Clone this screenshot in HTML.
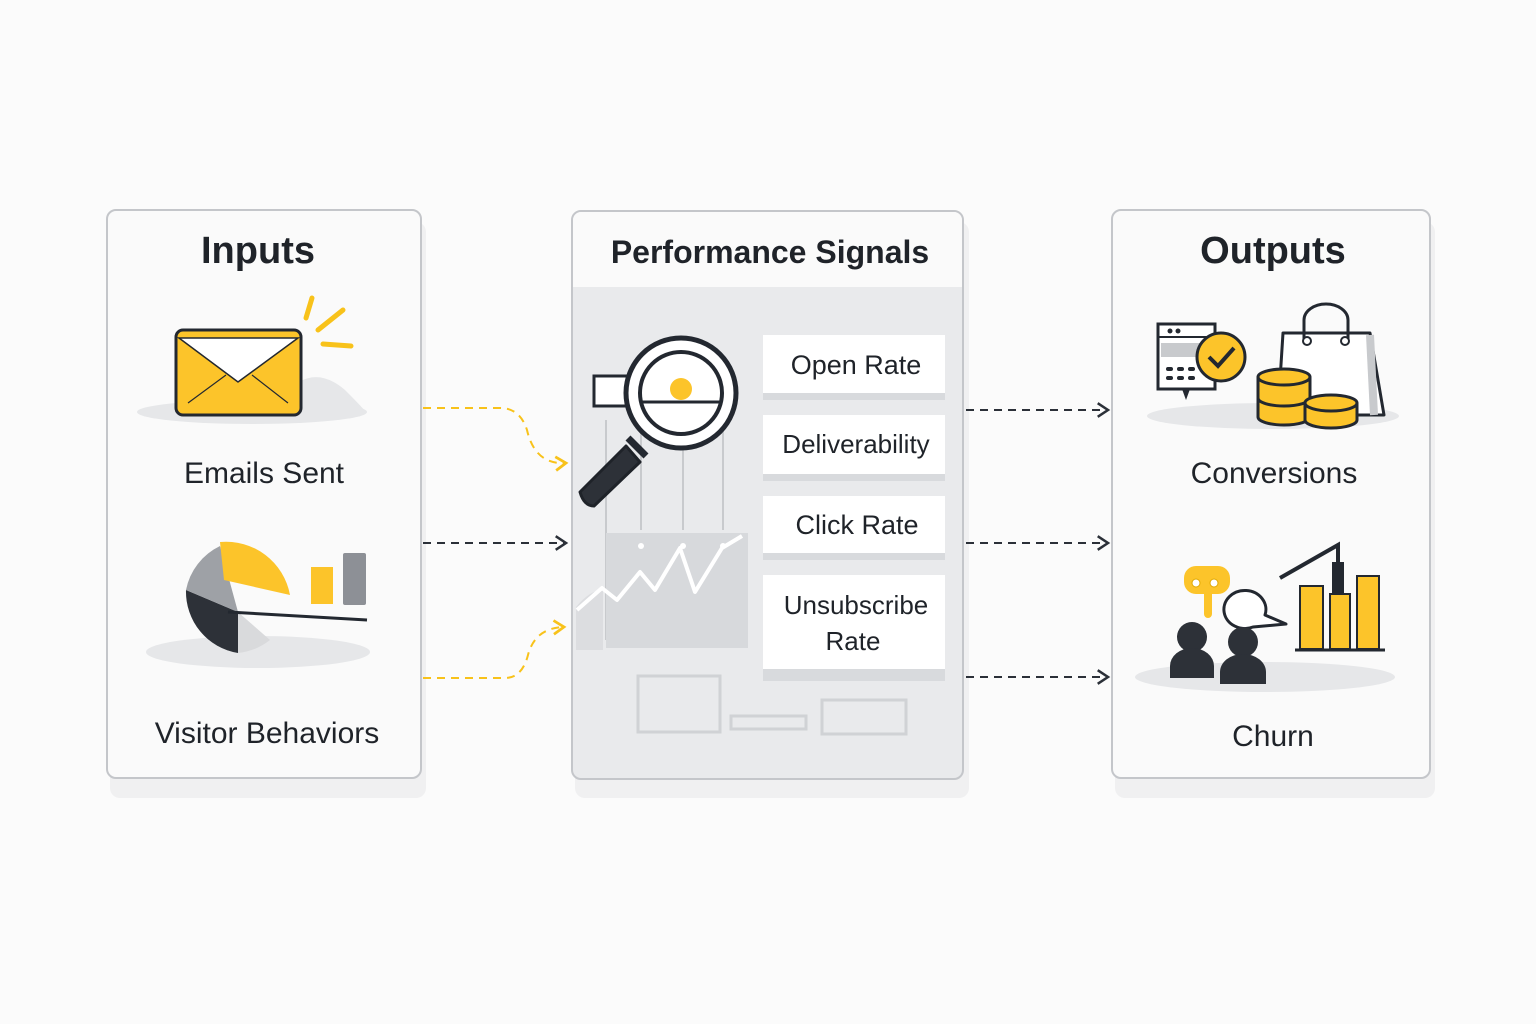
<!DOCTYPE html>
<html><head><meta charset="utf-8"><style>
html,body{margin:0;padding:0;background:#fbfbfb;}
svg{display:block}
text{font-family:"Liberation Sans",sans-serif;fill:#1f2329}
</style></head><body>
<svg width="1536" height="1024" viewBox="0 0 1536 1024" xmlns="http://www.w3.org/2000/svg">
<defs>
<marker id="ad" viewBox="0 0 14 14" refX="12" refY="7" markerWidth="16" markerHeight="16" markerUnits="userSpaceOnUse" orient="auto"><path d="M3 1 L12 7 L3 13" fill="none" stroke="#2b3038" stroke-width="2.2"/></marker>
<marker id="ay" viewBox="0 0 14 14" refX="12" refY="7" markerWidth="16" markerHeight="16" markerUnits="userSpaceOnUse" orient="auto"><path d="M3 1 L12 7 L3 13" fill="none" stroke="#f8c21a" stroke-width="2.4"/></marker>
</defs>
<rect width="1536" height="1024" fill="#fbfbfb"/>
<!-- shadows -->
<rect x="110" y="222" width="316" height="576" rx="10" fill="#f0f0f1"/>
<rect x="575" y="222" width="394" height="576" rx="10" fill="#f0f0f1"/>
<rect x="1115" y="222" width="320" height="576" rx="10" fill="#f0f0f1"/>
<!-- panels -->
<rect x="107" y="210" width="314" height="568" rx="9" fill="#fafafa" stroke="#c4c6ca" stroke-width="2"/>
<rect x="572" y="211" width="391" height="568" rx="9" fill="#e9eaec" stroke="#c4c6ca" stroke-width="2"/>
<path d="M573 287 V220 a8 8 0 0 1 8 -8 H954 a8 8 0 0 1 8 8 V287 Z" fill="#fafafa"/>
<rect x="1112" y="210" width="318" height="568" rx="9" fill="#fafafa" stroke="#c4c6ca" stroke-width="2"/>
<text x="258" y="263" font-size="38" text-anchor="middle" font-weight="bold">Inputs</text>
<text x="770" y="263" font-size="32" text-anchor="middle" font-weight="bold">Performance Signals</text>
<text x="1273" y="263" font-size="38" text-anchor="middle" font-weight="bold">Outputs</text>

<!-- envelope -->
<ellipse cx="252" cy="412" rx="115" ry="12" fill="#e6e7e9"/>
<path d="M280 400 Q310 360 345 390 Q360 405 366 412 Z" fill="#e6e7e9"/>
<rect x="176" y="330" width="125" height="85" rx="7" fill="#fcc42a" stroke="#232830" stroke-width="3"/>
<path d="M179 338 L238 382 L298 338 Z" fill="#fff" stroke="#232830" stroke-width="1.5"/>
<path d="M188 403 L226 375 M288 403 L252 375" stroke="#232830" stroke-width="1.2"/>
<path d="M306 318 L312 298 M318 330 L343 310 M323 344 L351 346" stroke="#f8c21a" stroke-width="5" stroke-linecap="round"/>
<text x="264" y="483" font-size="30" text-anchor="middle">Emails Sent</text>

<!-- pie -->
<ellipse cx="258" cy="652" rx="112" ry="16" fill="#e6e7e9"/>
<path d="M238 612 L238 653 A62 62 0 0 1 186 590 Z" fill="#2d3138"/>
<path d="M238 612 L186 590 A62 62 0 0 1 220 546 Z" fill="#9ea1a6"/>
<path d="M224 580 L220 542 A65 65 0 0 1 290 595 Z" fill="#fcc42a"/>
<path d="M238 612 L238 653 A62 62 0 0 0 270 640 Z" fill="#d9dadc"/>
<rect x="311" y="567" width="22" height="37" fill="#fcc42a"/>
<rect x="343" y="553" width="23" height="52" rx="2" fill="#8d9096"/>
<path d="M228 612 L367 620" stroke="#232830" stroke-width="3"/>
<text x="267" y="743" font-size="30" text-anchor="middle">Visitor Behaviors</text>

<!-- left arrows -->
<path d="M423 408 H500 Q520 408 527 430 Q535 465 566 463" fill="none" stroke="#f8c21a" stroke-width="2" stroke-dasharray="8 6" marker-end="url(#ay)"/>
<path d="M423 543 H566" fill="none" stroke="#2b3038" stroke-width="2" stroke-dasharray="8 6" marker-end="url(#ad)"/>
<path d="M423 678 H505 Q522 678 528 655 Q535 628 564 627" fill="none" stroke="#f8c21a" stroke-width="2" stroke-dasharray="8 6" marker-end="url(#ay)"/>

<!-- middle illustration -->
<g stroke="#c8cacd" stroke-width="2">
<path d="M606 420 V640 M641 420 V530 M683 430 V530 M723 430 V530"/>
</g>
<rect x="606" y="533" width="142" height="115" fill="#d7d9dc"/>
<path d="M576 607 Q590 590 603 590 V650 H576 Z" fill="#dcdde0"/>
<polyline points="577,610 602,588 617,600 640,572 655,590 680,548 695,592 722,548 742,536" fill="none" stroke="#fff" stroke-width="4" stroke-linejoin="round"/>
<g fill="#fff"><circle cx="641" cy="546" r="3"/><circle cx="683" cy="546" r="3"/><circle cx="723" cy="546" r="3"/></g>
<rect x="594" y="376" width="40" height="30" fill="#fff" stroke="#232830" stroke-width="3"/>
<path d="M628 438 L646 456" stroke="#232830" stroke-width="7"/>
<path d="M580 492 L626 446 L640 462 L594 506 Q584 506 580 492 Z" fill="#2d3138" stroke="#1f2329" stroke-width="3" stroke-linejoin="round"/>
<circle cx="681" cy="393" r="55" fill="#fff" stroke="#232830" stroke-width="5"/>
<circle cx="681" cy="393" r="41" fill="#fff" stroke="#232830" stroke-width="4"/>
<path d="M641 402 H721" stroke="#232830" stroke-width="3"/>
<circle cx="681" cy="389" r="11" fill="#fcc42a"/>
<g fill="none" stroke="#d0d2d5" stroke-width="3">
<rect x="638" y="676" width="82" height="56"/>
<rect x="731" y="716" width="75" height="13"/>
<rect x="822" y="700" width="84" height="34"/>
</g>

<!-- signal boxes -->
<g>
<rect x="763" y="341" width="182" height="59" fill="#d8dadd"/>
<rect x="763" y="335" width="182" height="58" fill="#fff"/>
<rect x="763" y="421" width="182" height="60" fill="#d8dadd"/>
<rect x="763" y="415" width="182" height="59" fill="#fff"/>
<rect x="763" y="502" width="182" height="58" fill="#d8dadd"/>
<rect x="763" y="496" width="182" height="57" fill="#fff"/>
<rect x="763" y="581" width="182" height="100" fill="#d8dadd"/>
<rect x="763" y="575" width="182" height="94" fill="#fff"/>
</g>
<text x="856" y="374" font-size="27" text-anchor="middle">Open Rate</text>
<text x="856" y="453" font-size="26" text-anchor="middle">Deliverability</text>
<text x="857" y="534" font-size="27" text-anchor="middle">Click Rate</text>
<text x="856" y="614" font-size="26" text-anchor="middle">Unsubscribe</text>
<text x="853" y="650" font-size="26" text-anchor="middle">Rate</text>

<!-- right arrows -->
<path d="M966 410 H1108" fill="none" stroke="#2b3038" stroke-width="2" stroke-dasharray="8 6" marker-end="url(#ad)"/>
<path d="M966 543 H1108" fill="none" stroke="#2b3038" stroke-width="2" stroke-dasharray="8 6" marker-end="url(#ad)"/>
<path d="M966 677 H1108" fill="none" stroke="#2b3038" stroke-width="2" stroke-dasharray="8 6" marker-end="url(#ad)"/>

<!-- conversions icon -->
<ellipse cx="1273" cy="416" rx="126" ry="13" fill="#e6e7e9"/>
<rect x="1158" y="324" width="57" height="65" fill="#fff" stroke="#232830" stroke-width="3"/>
<path d="M1158 337 H1215" stroke="#232830" stroke-width="2"/>
<rect x="1161" y="343" width="40" height="14" fill="#c8cacd"/>
<g fill="#232830"><circle cx="1170" cy="331" r="2.5"/><circle cx="1178" cy="331" r="2.5"/>
<rect x="1166" y="367" width="7" height="4" rx="2"/><rect x="1177" y="367" width="7" height="4" rx="2"/><rect x="1188" y="367" width="7" height="4" rx="2"/>
<rect x="1166" y="376" width="7" height="4" rx="2"/><rect x="1177" y="376" width="7" height="4" rx="2"/><rect x="1188" y="376" width="7" height="4" rx="2"/></g>
<path d="M1182 389 L1186 400 L1190 389" fill="#232830"/>
<circle cx="1221" cy="357" r="24" fill="#fcc42a" stroke="#232830" stroke-width="3"/>
<path d="M1209 357 L1218 366 L1234 348" fill="none" stroke="#232830" stroke-width="4"/>
<path d="M1278 412 L1283 333 H1370 L1384 415 H1320" fill="#fff" stroke="#232830" stroke-width="3" stroke-linejoin="round"/>
<path d="M1370 335 L1374 415" stroke="#c8cacd" stroke-width="8"/>
<path d="M1304 340 V320 a22 16 0 0 1 44 0 V340" fill="none" stroke="#232830" stroke-width="3"/>
<circle cx="1307" cy="341" r="4" fill="#fff" stroke="#232830" stroke-width="2"/>
<circle cx="1345" cy="341" r="4" fill="#fff" stroke="#232830" stroke-width="2"/>
<path d="M1258 377 V417 a26 8 0 0 0 52 0 V377" fill="#fcc42a" stroke="#232830" stroke-width="3"/>
<path d="M1258 398 a26 8 0 0 0 52 0" fill="none" stroke="#232830" stroke-width="3"/>
<ellipse cx="1284" cy="377" rx="26" ry="8" fill="#fcc42a" stroke="#232830" stroke-width="3"/>
<path d="M1305 403 V420 a26 8 0 0 0 52 0 V403" fill="#fcc42a" stroke="#232830" stroke-width="3"/>
<ellipse cx="1331" cy="403" rx="26" ry="8" fill="#fcc42a" stroke="#232830" stroke-width="3"/>
<text x="1274" y="483" font-size="30" text-anchor="middle">Conversions</text>

<!-- churn icon -->
<ellipse cx="1265" cy="677" rx="130" ry="15" fill="#e6e7e9"/>
<path d="M1196 566 h22 a12 12 0 0 1 12 12 v4 a12 12 0 0 1 -12 12 h-6 v20 a4 4 0 0 1 -8 0 v-20 h-8 a12 12 0 0 1 -12 -12 v-4 a12 12 0 0 1 12 -12 Z" fill="#fcc42a"/>
<circle cx="1196" cy="583" r="4" fill="#fff" stroke="#e0a800" stroke-width="1"/><circle cx="1214" cy="583" r="4" fill="#fff" stroke="#e0a800" stroke-width="1"/>
<path d="M1265 615 a21 19 0 1 0 -12 12 L1286 624 Z" fill="#fff" stroke="#232830" stroke-width="3" stroke-linejoin="round"/>
<circle cx="1192" cy="637" r="15" fill="#2d3138"/>
<path d="M1170 678 v-12 a22 18 0 0 1 44 0 v12 Z" fill="#2d3138"/>
<circle cx="1243" cy="642" r="15" fill="#2d3138"/>
<path d="M1220 684 v-12 a23 18 0 0 1 46 0 v12 Z" fill="#2d3138"/>
<rect x="1300" y="586" width="23" height="63" fill="#fcc42a" stroke="#232830" stroke-width="2"/>
<rect x="1330" y="594" width="20" height="55" fill="#fcc42a" stroke="#232830" stroke-width="2"/>
<rect x="1357" y="576" width="22" height="73" fill="#fcc42a" stroke="#232830" stroke-width="2"/>
<path d="M1295 650 H1385" stroke="#232830" stroke-width="3"/>
<path d="M1280 578 L1338 545 V592" fill="none" stroke="#232830" stroke-width="4"/>
<rect x="1332" y="562" width="12" height="32" fill="#232830"/>
<text x="1273" y="746" font-size="30" text-anchor="middle">Churn</text>
</svg>
</body></html>
